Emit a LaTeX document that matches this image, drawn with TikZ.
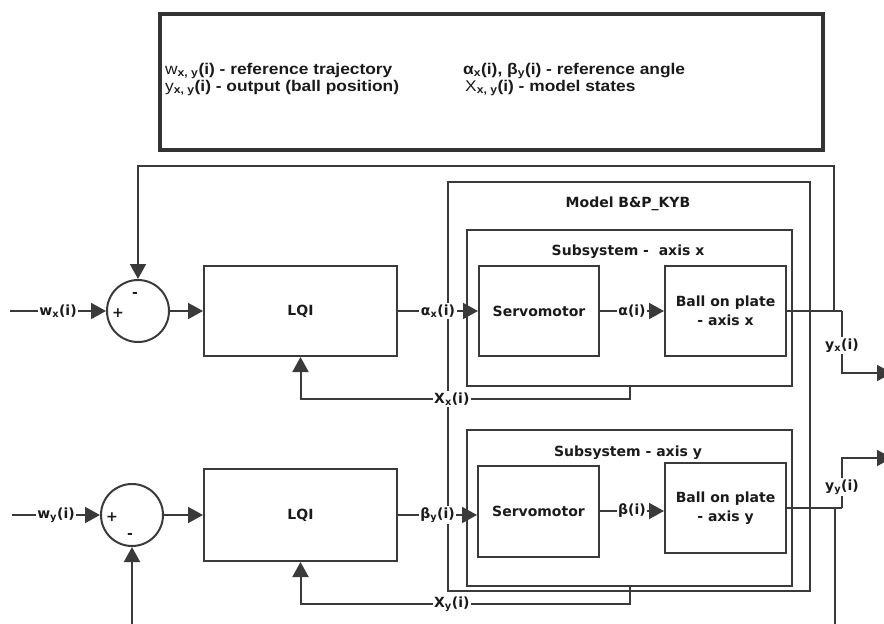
\documentclass[tikz,border=0pt]{standalone}
\usepackage{fontspec}
\setmainfont{DejaVu Sans}
\newfontfamily\legendfont[FakeStretch=1.12]{Liberation Sans}
\usetikzlibrary{arrows.meta,positioning}
\definecolor{WireGray}{HTML}{3A3A3A}
\definecolor{FrameGray}{HTML}{333333}
\definecolor{InkBlack}{HTML}{1A1A1A}
\newcommand{\sbs}[1]{\textsubscript{#1}}

\begin{document}
\begin{tikzpicture}[x=1pt,y=-1pt,
    font=\bfseries\fontsize{14}{19}\selectfont,text=InkBlack,
    wire/.style={draw=WireGray,line width=2pt},
    arr/.style={wire,-{Triangle[length=15pt,width=16pt]}},
    block/.style 2 args={draw=WireGray,line width=2pt,inner sep=0pt,
      minimum width=#1,minimum height=#2,align=center},
    junction/.style={draw=WireGray,line width=2pt,circle,inner sep=0pt,minimum size=62pt},
    lbl/.style={fill=white,inner sep=1.5pt},
    sign/.style={font=\bfseries\fontsize{14}{14}\selectfont,inner sep=0pt},
    legtext/.style={font=\legendfont\bfseries\fontsize{15.5}{15.5}\selectfont,inner sep=0pt,anchor=base west}]
  \path[use as bounding box,clip] (0,0) rectangle (884,624);

  % legend
  \node[draw=FrameGray,line width=4pt,minimum width=663pt,minimum height=136pt] (legend) at (491.5,82) {};
  \node[legtext] (legW) at (165,74) {{\mdseries w}\sbs{x, y}(i) - reference trajectory};
  \node[legtext] (legY) at (165,91) {{\mdseries y}\sbs{x, y}(i) - output (ball position)};
  \node[legtext] (legA) at (463,74) {α\sbs{x}(i), β\sbs{y}(i) - reference angle};
  \node[legtext] (legX) at (465,91) {{\mdseries X}\sbs{x, y}(i) - model states};

  % model with both subsystems
  \node[block={362pt}{409pt}] (model) at (629,386.5) {};
  \node (modelT) at (628,204) {Model B\&P\_KYB};
  \node[block={325pt}{156pt}] (subx) at (629.5,308) {};
  \node (subxT) at (628,252) {Subsystem -\ \ axis x};
  \node[block={325pt}{156pt}] (suby) at (629.5,508) {};
  \node (subyT) at (628,453) {Subsystem - axis y};

  % axis x
  \node[junction] (sumx) at (138,311) {};
  \node[sign] (sumxP) at ([shift={(-20,2)}]sumx.center) {+};
  \node[sign] (sumxM) at ([shift={(-3,-16)}]sumx.center) {-};
  \node[block={193pt}{90pt}] (lqix) at (300.5,311) {LQI};
  \node[block={120pt}{90pt}] (servox) at (539,311) {Servomotor};
  \node[block={121pt}{90pt}] (ballx) at (725.5,311) {Ball on plate\\ - axis x};

  \coordinate (inx) at (10,311);
  \coordinate (jx) at (842,311);
  \coordinate (kx) at (842,373);
  \coordinate (outx) at (892,373);
  \coordinate (fbx) at (834,311);
  \coordinate (topx) at (834,166);
  \draw[arr] (inx) -- node[lbl]{w\sbs{x}(i)} (sumx);
  \draw[arr] (sumx) -- (lqix);
  \draw[arr] (lqix) -- node[lbl]{α\sbs{x}(i)} (servox);
  \draw[arr] (servox) -- node[lbl]{α(i)} (ballx);
  \draw[wire] (ballx) -- (jx);
  \draw[arr] (fbx) -- (topx) -| (sumx.north);
  \draw[arr] (jx) -- node[lbl,pos=0.56]{y\sbs{x}(i)} (kx) -- (outx);
  \draw[arr] (subx.south) -- ++(0,12) -| node[lbl,pos=0.27]{X\sbs{x}(i)} (lqix.south);

  % axis y
  \node[junction] (sumy) at (132,515) {};
  \node[sign] (sumyP) at ([shift={(-20,2)}]sumy.center) {+};
  \node[sign] (sumyM) at ([shift={(-2,21)}]sumy.center) {-};
  \node[block={193pt}{92pt}] (lqiy) at (300.5,515) {LQI};
  \node[block={121pt}{91pt}] (servoy) at (538.5,511) {Servomotor};
  \node[block={121pt}{90pt}] (bally) at (725.5,508) {Ball on plate\\ - axis y};

  \coordinate (iny) at (12,515);
  \coordinate (jy) at (842,508);
  \coordinate (ky) at (842,458);
  \coordinate (outy) at (892,458);
  \coordinate (fby) at (835,508);
  \coordinate (boty) at (835,650);
  \draw[arr] (iny) -- node[lbl]{w\sbs{y}(i)} (sumy);
  \draw[arr] (sumy) -- (lqiy);
  \draw[arr] (lqiy.east) -- node[lbl]{β\sbs{y}(i)} (lqiy.east -| servoy.west);
  \draw[arr] (servoy.east) -- node[lbl]{β(i)} (servoy.east -| bally.west);
  \draw[wire] (bally) -- (jy);
  \draw[arr] (fby) -- (boty) -| (sumy.south);
  \draw[arr] (jy) -- node[lbl,pos=0.42]{y\sbs{y}(i)} (ky) -- (outy);
  \draw[arr] (suby.south) -- ++(0,17) -| node[lbl,pos=0.27]{X\sbs{y}(i)} (lqiy.south);
\end{tikzpicture}
\end{document}
